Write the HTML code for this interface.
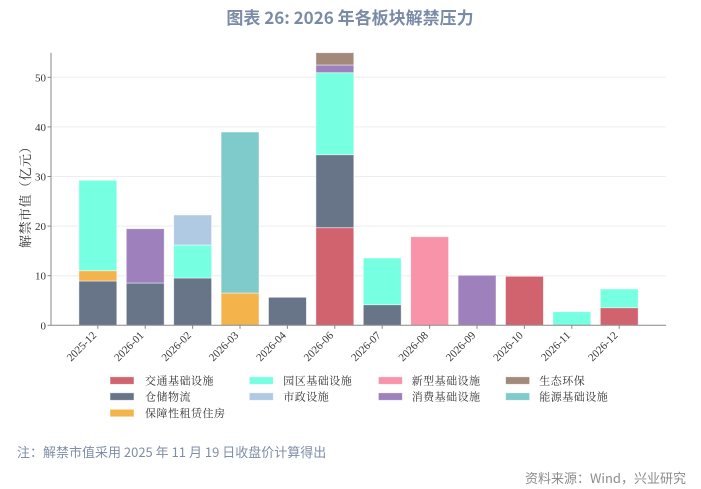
<!DOCTYPE html>
<html>
<head>
<meta charset="utf-8">
<style>
  html,body{margin:0;padding:0;background:#fff;}
  svg{display:block;}
  .tick{font-family:"Liberation Serif",serif;font-size:11px;fill:#333;}
  .leg{font-family:"Noto Serif CJK SC","Liberation Serif",serif;font-size:11px;fill:#333;letter-spacing:0.5px;}
</style>
</head>
<body>
<svg width="701" height="489" viewBox="0 0 701 489" xmlns="http://www.w3.org/2000/svg">
  <rect width="701" height="489" fill="#fff"/>
  <!-- title -->
  <text x="350" y="24" text-anchor="middle" font-family="'Noto Sans CJK SC','Liberation Sans',sans-serif" font-size="17" font-weight="bold" fill="#7a8ba6">图表 26: 2026 年各板块解禁压力</text>

  <!-- grid -->
  <g stroke="#eeeeee" stroke-width="1">
    <line x1="51" y1="275.7" x2="666" y2="275.7"/>
    <line x1="51" y1="226.1" x2="666" y2="226.1"/>
    <line x1="51" y1="176.5" x2="666" y2="176.5"/>
    <line x1="51" y1="126.9" x2="666" y2="126.9"/>
    <line x1="51" y1="77.3" x2="666" y2="77.3"/>
  </g>

  <!-- bars -->
  <g stroke="#ffffff" stroke-opacity="0.6" stroke-width="0.8">
    <rect x="78.9" y="281" width="37.9" height="44.3" fill="#687589"/>
    <rect x="78.9" y="270.7" width="37.9" height="10.3" fill="#f5b34b"/>
    <rect x="78.9" y="180.3" width="37.9" height="90.4" fill="#76ffe0"/>
    <rect x="126.3" y="283" width="37.9" height="42.3" fill="#687589"/>
    <rect x="126.3" y="228.7" width="37.9" height="54.3" fill="#9e80bc"/>
    <rect x="173.7" y="278" width="37.9" height="47.3" fill="#687589"/>
    <rect x="173.7" y="245" width="37.9" height="33" fill="#76ffe0"/>
    <rect x="173.7" y="215" width="37.9" height="30" fill="#afcae2"/>
    <rect x="221.1" y="293" width="37.9" height="32.3" fill="#f5b34b"/>
    <rect x="221.1" y="132" width="37.9" height="161" fill="#7fcaca"/>
    <rect x="268.5" y="297.3" width="37.9" height="28" fill="#687589"/>
    <rect x="315.9" y="227.7" width="37.9" height="97.6" fill="#d1636f"/>
    <rect x="315.9" y="154.7" width="37.9" height="73" fill="#687589"/>
    <rect x="315.9" y="72.7" width="37.9" height="82" fill="#76ffe0"/>
    <rect x="315.9" y="65" width="37.9" height="7.7" fill="#9e80bc"/>
    <rect x="315.9" y="52.7" width="37.9" height="12.3" fill="#a3897a"/>
    <rect x="363.3" y="304.7" width="37.9" height="20.6" fill="#687589"/>
    <rect x="363.3" y="258" width="37.9" height="46.7" fill="#76ffe0"/>
    <rect x="410.7" y="236.7" width="37.9" height="88.6" fill="#f993aa"/>
    <rect x="458.1" y="275.3" width="37.9" height="50" fill="#9e80bc"/>
    <rect x="505.5" y="276.3" width="37.9" height="49" fill="#d1636f"/>
    <rect x="552.9" y="311.7" width="37.9" height="13.6" fill="#76ffe0"/>
    <rect x="600.3" y="307.7" width="37.9" height="17.6" fill="#d1636f"/>
    <rect x="600.3" y="289" width="37.9" height="18.7" fill="#76ffe0"/>
  </g>

  <!-- axes -->
  <g stroke="#888" stroke-width="1">
    <line x1="51" y1="52.7" x2="51" y2="325.3"/>
    <line x1="51" y1="325.3" x2="666" y2="325.3"/>
    <line x1="47.5" y1="325.3" x2="51" y2="325.3"/>
    <line x1="47.5" y1="275.7" x2="51" y2="275.7"/>
    <line x1="47.5" y1="226.1" x2="51" y2="226.1"/>
    <line x1="47.5" y1="176.5" x2="51" y2="176.5"/>
    <line x1="47.5" y1="126.9" x2="51" y2="126.9"/>
    <line x1="47.5" y1="77.3" x2="51" y2="77.3"/>
    <line x1="97.8" y1="325.3" x2="97.8" y2="328.8"/>
    <line x1="145.2" y1="325.3" x2="145.2" y2="328.8"/>
    <line x1="192.6" y1="325.3" x2="192.6" y2="328.8"/>
    <line x1="240" y1="325.3" x2="240" y2="328.8"/>
    <line x1="287.4" y1="325.3" x2="287.4" y2="328.8"/>
    <line x1="334.8" y1="325.3" x2="334.8" y2="328.8"/>
    <line x1="382.2" y1="325.3" x2="382.2" y2="328.8"/>
    <line x1="429.6" y1="325.3" x2="429.6" y2="328.8"/>
    <line x1="477" y1="325.3" x2="477" y2="328.8"/>
    <line x1="524.4" y1="325.3" x2="524.4" y2="328.8"/>
    <line x1="571.8" y1="325.3" x2="571.8" y2="328.8"/>
    <line x1="619.2" y1="325.3" x2="619.2" y2="328.8"/>
  </g>

  <!-- y tick labels -->
  <g class="tick" text-anchor="end">
    <text x="46" y="329.3">0</text>
    <text x="46" y="279.7">10</text>
    <text x="46" y="230.1">20</text>
    <text x="46" y="180.5">30</text>
    <text x="46" y="130.9">40</text>
    <text x="46" y="81.3">50</text>
  </g>

  <!-- x tick labels -->
  <g class="tick" text-anchor="end">
    <text transform="translate(97,336) rotate(-45)">2025-12</text>
    <text transform="translate(144.4,336) rotate(-45)">2026-01</text>
    <text transform="translate(191.8,336) rotate(-45)">2026-02</text>
    <text transform="translate(239.2,336) rotate(-45)">2026-03</text>
    <text transform="translate(286.6,336) rotate(-45)">2026-04</text>
    <text transform="translate(334,336) rotate(-45)">2026-06</text>
    <text transform="translate(381.4,336) rotate(-45)">2026-07</text>
    <text transform="translate(428.8,336) rotate(-45)">2026-08</text>
    <text transform="translate(476.2,336) rotate(-45)">2026-09</text>
    <text transform="translate(523.6,336) rotate(-45)">2026-10</text>
    <text transform="translate(571,336) rotate(-45)">2026-11</text>
    <text transform="translate(618.4,336) rotate(-45)">2026-12</text>
  </g>

  <!-- y label -->
  <text transform="translate(30,194) rotate(-90)" text-anchor="middle" font-family="'Noto Serif CJK SC','Liberation Serif',serif" font-size="13" letter-spacing="0.5" fill="#333">解禁市值（亿元）</text>

  <!-- legend -->
  <g stroke="#ffffff" stroke-opacity="0.6" stroke-width="0.8">
    <rect x="110" y="376.8" width="24" height="7.5" fill="#d1636f"/>
    <rect x="249.3" y="376.8" width="24" height="7.5" fill="#76ffe0"/>
    <rect x="378.4" y="376.8" width="24" height="7.5" fill="#f993aa"/>
    <rect x="505.6" y="376.8" width="24" height="7.5" fill="#a3897a"/>
    <rect x="110" y="392.8" width="24" height="7.5" fill="#687589"/>
    <rect x="249.3" y="392.8" width="24" height="7.5" fill="#afcae2"/>
    <rect x="378.4" y="392.8" width="24" height="7.5" fill="#9e80bc"/>
    <rect x="505.6" y="392.8" width="24" height="7.5" fill="#7fcaca"/>
    <rect x="110" y="409.3" width="24" height="7.5" fill="#f5b34b"/>
  </g>
  <g class="leg">
    <text x="145" y="384.5">交通基础设施</text>
    <text x="283.3" y="384.5">园区基础设施</text>
    <text x="411.7" y="384.5">新型基础设施</text>
    <text x="539.3" y="384.5">生态环保</text>
    <text x="145" y="400.5">仓储物流</text>
    <text x="283.3" y="400.5">市政设施</text>
    <text x="411.7" y="400.5">消费基础设施</text>
    <text x="539.3" y="400.5">能源基础设施</text>
    <text x="145" y="417">保障性租赁住房</text>
  </g>

  <!-- note -->
  <text x="17" y="457" font-family="'Noto Sans CJK SC','Liberation Sans',sans-serif" font-size="13" fill="#7f8ea8">注：解禁市值采用 2025 年 11 月 19 日收盘价计算得出</text>
  <!-- source -->
  <text x="686" y="483" text-anchor="end" font-family="'Noto Sans CJK SC','Liberation Sans',sans-serif" font-size="13" fill="#8c8c8c">资料来源：Wind，兴业研究</text>
</svg>
</body>
</html>
